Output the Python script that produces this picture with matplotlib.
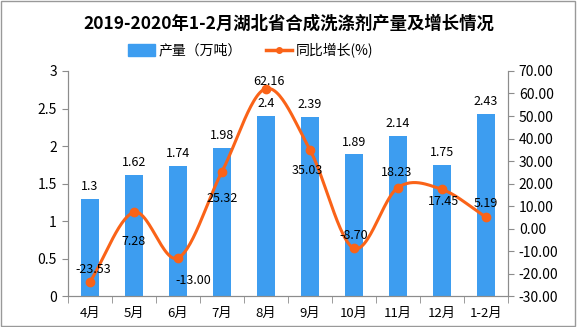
import numpy as np
import matplotlib.pyplot as plt
from matplotlib.lines import Line2D
from matplotlib.patches import Patch, Rectangle

plt.rcParams['font.family'] = ['Noto Sans CJK SC', 'DejaVu Sans']

# ---- data ----
months = ["4月", "5月", "6月", "7月", "8月", "9月", "10月", "11月", "12月", "1-2月"]
output = [1.3, 1.62, 1.74, 1.98, 2.4, 2.39, 1.89, 2.14, 1.75, 2.43]
growth = [-23.53, 7.28, -13.00, 25.32, 62.16, 35.03, -8.70, 18.23, 17.45, 5.19]
# label offsets for the growth labels (points)
growth_offsets = [(2, 9), (0, -21), (11, -16), (0, -19), (2, 5), (-2, -15),
                  (0, 9), (-1, 11), (1, -9), (0, 10)]

BAR_COLOR = "#3d9df0"
LINE_COLOR = "#fa6318"
AXIS_COLOR = "#8c8c8c"


def smooth(xs, ys, n=30):
    # Catmull-Rom style smoothing, like a spreadsheet "smoothed line"
    xs = np.asarray(xs, float)
    ys = np.asarray(ys, float)
    px = np.concatenate([[2 * xs[0] - xs[1]], xs, [2 * xs[-1] - xs[-2]]])
    py = np.concatenate([[2 * ys[0] - ys[1]], ys, [2 * ys[-1] - ys[-2]]])
    outx, outy = [], []
    t = np.linspace(0, 1, n)
    for i in range(1, len(px) - 2):
        for p, out in ((px, outx), (py, outy)):
            p0, p1, p2, p3 = p[i - 1], p[i], p[i + 1], p[i + 2]
            seg = 0.5 * ((2 * p1) + (-p0 + p2) * t + (2 * p0 - 5 * p1 + 4 * p2 - p3) * t ** 2
                         + (-p0 + 3 * p1 - 3 * p2 + p3) * t ** 3)
            out.extend(seg)
    return np.array(outx), np.array(outy)


fig = plt.figure(figsize=(5.77, 3.27), dpi=100)
ax = fig.add_axes([0.118, 0.094, 0.762, 0.689])
ax2 = ax.twinx()

x = np.arange(len(months))
ax.bar(x, output, width=0.41, color=BAR_COLOR, zorder=2)
for xi, v in zip(x, output):
    ax.annotate(f"{v:g}", (xi, v), xytext=(0, 4), textcoords="offset points",
                ha="center", va="bottom", fontsize=9)

ax.set_xlim(-0.5, len(months) - 0.5)
ax.set_ylim(0, 3)
ax.set_yticks(np.arange(0, 3.01, 0.5))
ax.set_yticklabels([f"{v:g}" for v in np.arange(0, 3.01, 0.5)], fontsize=10)
ax.set_xticks(x)
ax.set_xticklabels(months, fontsize=9.5)
ax.set_xticks(np.arange(-0.5, len(months), 1), minor=True)
ax.tick_params(axis="x", which="major", length=0, pad=8)
ax.tick_params(axis="x", which="minor", length=5, color=AXIS_COLOR, direction="out")
ax.tick_params(axis="y", length=4, color=AXIS_COLOR, direction="out", pad=4)

sx, sy = smooth(x, growth)
ax2.plot(sx, sy, color=LINE_COLOR, lw=2.2, zorder=3)
ax2.plot(x, growth, "o", color=LINE_COLOR, ms=6, zorder=4)
for xi, v, (dx, dy) in zip(x, growth, growth_offsets):
    ax2.annotate(f"{v:.2f}", (xi, v), xytext=(dx, dy), textcoords="offset points",
                 ha="center", va="center", fontsize=9, zorder=5)
ax2.set_ylim(-30, 70)
ax2.set_yticks(np.arange(-30, 71, 10))
ax2.set_yticklabels([f"{v:.2f}" for v in np.arange(-30, 71, 10)], fontsize=10)
ax2.tick_params(axis="y", length=4, color=AXIS_COLOR, direction="out", pad=4)

for a in (ax, ax2):
    a.spines["top"].set_visible(False)
    for s in ("left", "right", "bottom"):
        a.spines[s].set_color(AXIS_COLOR)
ax.set_zorder(ax2.get_zorder() - 1)
ax2.patch.set_visible(False)

fig.text(0.5, 0.928, "2019-2020年1-2月湖北省合成洗涤剂产量及增长情况",
         ha="center", va="center", fontsize=12.5, fontweight="bold")

handles = [Patch(color=BAR_COLOR, label="产量（万吨）"),
           Line2D([0], [0], color=LINE_COLOR, lw=2.5, marker="o", ms=4, label="同比增长(%)")]
fig.legend(handles=handles, loc="center", bbox_to_anchor=(0.435, 0.846), ncol=2,
           frameon=False, fontsize=10, handlelength=1.9, handleheight=0.9,
           columnspacing=1.7, handletextpad=0.3)

fig.patches.append(Rectangle((0.002, 0.004), 0.995, 0.992, transform=fig.transFigure,
                             fill=False, edgecolor="#999999", lw=1))

fig.savefig("out.png", dpi=100)
